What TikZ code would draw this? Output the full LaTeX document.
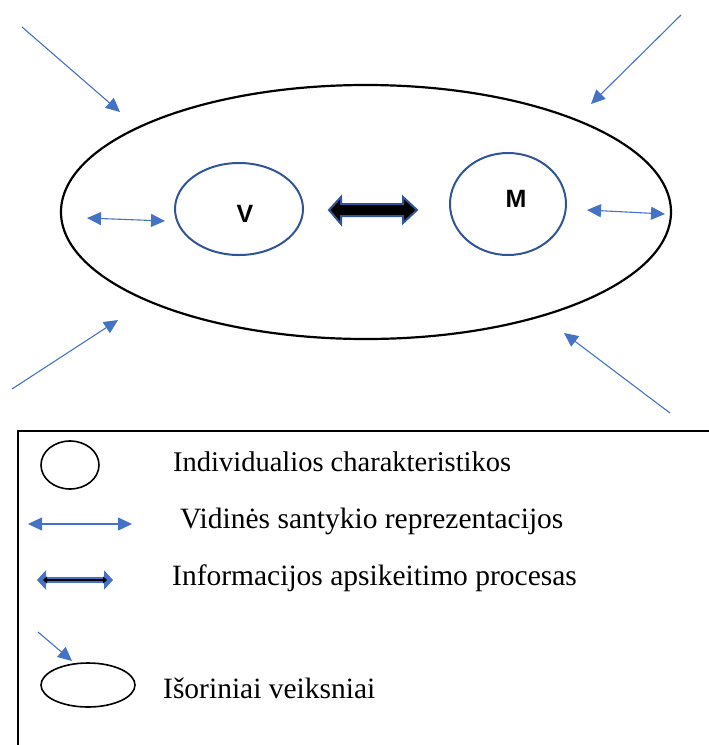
\documentclass[tikz,border=0pt]{standalone}
\usepackage{fontspec}
\setmainfont{Liberation Serif}
\newfontfamily\arialf{Liberation Sans}
\usetikzlibrary{arrows.meta}
\definecolor{ablue}{HTML}{4472C4}
\definecolor{dblue}{HTML}{2F5597}
\tikzset{
  thinarr/.style={ablue, line width=1.1pt, -{Triangle[length=14pt,width=13pt]}},
  thindbl/.style={ablue, line width=1.1pt, {Triangle[length=14pt,width=13pt]}-{Triangle[length=14pt,width=13pt]}},
  circbox/.style={draw=dblue, line width=2pt, ellipse},
  legtext/.style={anchor=base west, inner sep=0pt, font=\fontsize{29.5}{33}\selectfont},
  letter/.style={font=\arialf\bfseries\fontsize{25}{28}\selectfont, inner sep=0pt}
}
\usetikzlibrary{shapes.geometric}
\begin{document}
\begin{tikzpicture}[x=1pt,y=-1pt]
\useasboundingbox (0,0) rectangle (709,745);
% big ellipse
\node[draw=black, line width=2.2pt, ellipse, minimum width=610pt, minimum height=254pt, inner sep=0pt] (outer) at (366,212) {};
% V and M circles
\node[circbox, minimum width=128pt, minimum height=92pt, inner sep=0pt] (vc) at (239,209) {};
\node[circbox, minimum width=116pt, minimum height=102pt, inner sep=0pt] (mc) at (508,204) {};
\node[letter] (vl) at (245,214) {V};
\node[letter] (ml) at (516,199) {M};
% thick double arrow
\coordinate (fa1) at (329,210);
\coordinate (fa2) at (417,210);
\draw[dblue, line width=2pt, fill=black] (fa1) -- ++(12,-13) -- ++(0,7) -- ++(62,0) -- ++(0,-7) -- (fa2) -- ++(-14,13) -- ++(0,-7) -- ++(-62,0) -- ++(0,8) -- cycle;
% small double arrows
\coordinate (la1) at (87,218);
\coordinate (la2) at (165,221);
\draw[thindbl] (la1) -- (la2);
\coordinate (ra1) at (587,210);
\coordinate (ra2) at (665,214);
\draw[thindbl] (ra1) -- (ra2);
% outer arrows
\coordinate (o1s) at (22,27);   \coordinate (o1e) at (120,112);
\coordinate (o2s) at (681,15);  \coordinate (o2e) at (591,104);
\coordinate (o3s) at (12,389);  \coordinate (o3e) at (118,320);
\coordinate (o4s) at (670,413); \coordinate (o4e) at (564,333);
\draw[thinarr] (o1s) -- (o1e);
\draw[thinarr] (o2s) -- (o2e);
\draw[thinarr] (o3s) -- (o3e);
\draw[thinarr] (o4s) -- (o4e);
% legend frame
\coordinate (fr1) at (709,431);
\coordinate (fr2) at (18,431);
\coordinate (fr3) at (18,745);
\draw[line width=1.8pt] (fr1) -- (fr2) -- (fr3);
% legend items
\node[draw=black, line width=1.6pt, ellipse, minimum width=58pt, minimum height=48pt, inner sep=0pt] (lg1) at (70,465) {};
\node[legtext, font=\fontsize{28.5}{32}\selectfont] (t1) at (173,471) {Individualios charakteristikos};
\coordinate (lg2a) at (28,524);
\coordinate (lg2b) at (132,524);
\draw[thindbl] (lg2a) -- (lg2b);
\node[legtext] (t2) at (180,528) {Vidinės santykio reprezentacijos};
\coordinate (lg3a) at (37,580);
\coordinate (lg3b) at (113,580);
\draw[ablue, line width=6pt, {Triangle[length=9pt,width=19pt]}-{Triangle[length=9pt,width=19pt]}] (lg3a) -- (lg3b);
\draw[black, line width=2.6pt, {Triangle[length=4pt,width=7pt]}-{Triangle[length=4pt,width=7pt]}] ([xshift=6pt]lg3a) -- ([xshift=-6pt]lg3b);
\node[legtext] (t3) at (172,585) {Informacijos apsikeitimo procesas};
\coordinate (lg4a) at (38,632);
\coordinate (lg4b) at (72,661);
\draw[thinarr] (lg4a) -- (lg4b);
\node[draw=black, line width=1.6pt, ellipse, minimum width=94pt, minimum height=44pt, inner sep=0pt] (lg5) at (88,685) {};
\node[legtext] (t4) at (163,698) {Išoriniai veiksniai};
\end{tikzpicture}
\end{document}
